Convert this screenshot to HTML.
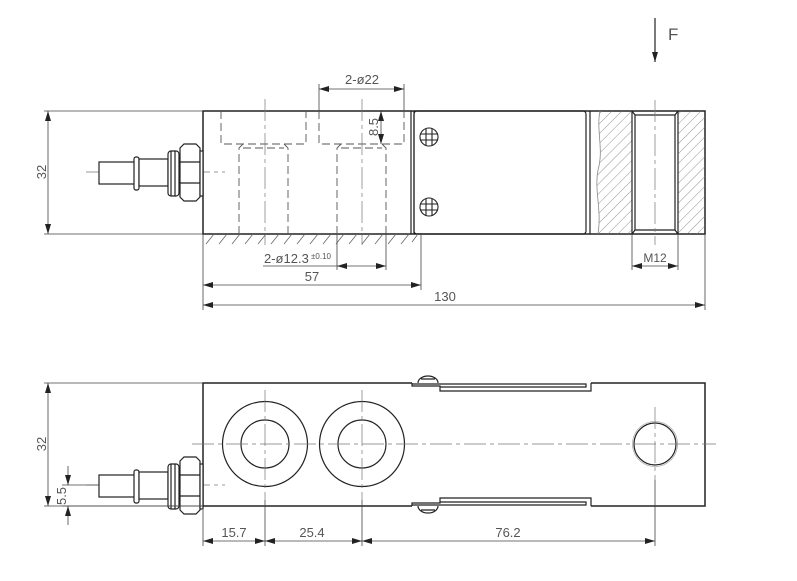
<!DOCTYPE html>
<html><head><meta charset="utf-8"><style>
html,body{margin:0;padding:0;background:#fff}
svg{display:block}
text{font-family:"Liberation Sans",sans-serif;fill:#555;font-size:13px}
</style></head><body>
<svg width="797" height="581" viewBox="0 0 797 581" xmlns="http://www.w3.org/2000/svg">
<defs>
<marker id="a" viewBox="0 0 10 6" refX="10" refY="3" markerWidth="10" markerHeight="6" orient="auto-start-reverse" markerUnits="userSpaceOnUse"><path d="M0,0L10,3L0,6z" fill="#222"/></marker>
<pattern id="h" width="7" height="7" patternUnits="userSpaceOnUse" patternTransform="rotate(45)"><line x1="0" y1="0" x2="0" y2="7" stroke="#777" stroke-width="0.8"/></pattern>
<g id="conn" stroke="#222" fill="#fff" stroke-width="1.2">
<rect x="99" y="-10" width="36" height="22"/>
<rect x="134" y="-15" width="5" height="33" rx="2"/>
<rect x="139" y="-13" width="29" height="27"/>
<rect x="168" y="-21" width="11" height="45" rx="3"/>
<line x1="171" y1="-21" x2="171" y2="24"/><line x1="175" y1="-21" x2="175" y2="24"/>
<path d="M180,-24 L184,-28 L196,-28 L200,-24 L200,25 L196,29 L184,29 L180,25 Z"/>
<path d="M180,-10 L200,-10 M180,11 L200,11" fill="none"/>
<rect x="200" y="-21" width="3" height="45"/>
</g>
</defs>
<g fill="none" stroke="#222" stroke-width="1.2">
<rect x="203" y="111" width="502" height="123" stroke-width="1.5"/>
<line x1="411" y1="111" x2="411" y2="234"/><line x1="414" y1="111" x2="414" y2="234"/>
<rect x="414" y="111" width="172" height="123" rx="3"/>
<line x1="590" y1="111" x2="590" y2="234"/>
<path d="M600,111 C596,130 604,150 598,170 C594,190 602,210 598,234 L632,234 L632,111 Z" fill="url(#h)" stroke="none"/>
<path d="M600,111 C596,130 604,150 598,170 C594,190 602,210 598,234" stroke="#888" stroke-width="0.8"/>
<rect x="678" y="111" width="27" height="123" fill="url(#h)" stroke="none"/>
<line x1="632" y1="111" x2="632" y2="234"/><line x1="678" y1="111" x2="678" y2="234"/>
<path d="M632,111 L635,115 L675,115 L678,111 M632,234 L635,230 L675,230 L678,234 M635,115 L635,230 M675,115 L675,230"/>
<g stroke-width="1.1"><circle cx="429" cy="137" r="9"/><path d="M426,129v16M432,129v16M421,134h16M421,140h16"/>
<circle cx="429" cy="207" r="9"/><path d="M426,199v16M432,199v16M421,204h16M421,210h16"/></g>
<g stroke="#555" stroke-width="0.9" stroke-dasharray="8,4">
<path d="M221,111 L221,144 L306,144 L306,111"/>
<path d="M239,234 L239,148 L243,144 M288,234 L288,148 L284,144 M243,148 L284,148"/>
<path d="M319,111 L319,144 L404,144 L404,111"/>
<path d="M337,234 L337,148 L341,144 M386,234 L386,148 L382,144 M341,148 L382,148"/>
</g>
<g stroke="#777" stroke-width="0.7" stroke-dasharray="22,4,4,4">
<line x1="265" y1="99" x2="265" y2="245"/><line x1="362" y1="99" x2="362" y2="245"/>
<line x1="655" y1="100" x2="655" y2="245"/>
<line x1="86" y1="172" x2="225" y2="172"/>
</g>
<g stroke="#666" stroke-width="0.8"><path d="M206,244l8,-10M219,244l8,-10M232,244l8,-10M245,244l8,-10M258,244l8,-10M271,244l8,-10M284,244l8,-10M297,244l8,-10M310,244l8,-10M323,244l8,-10M336,244l8,-10M349,244l8,-10M362,244l8,-10M375,244l8,-10M388,244l8,-10M401,244l8,-10M412,242l6,-8"/></g>
<use href="#conn" y="172"/>
<line x1="655" y1="18" x2="655" y2="62" marker-end="url(#a)"/>
<g stroke="#444" stroke-width="0.8">
<path d="M44,111H203M44,234H203"/>
<line x1="48" y1="111" x2="48" y2="234" marker-start="url(#a)" marker-end="url(#a)"/>
<path d="M319,84V111M404,84V111"/>
<line x1="319" y1="89" x2="404" y2="89" marker-start="url(#a)" marker-end="url(#a)"/>
<line x1="381" y1="111" x2="381" y2="144" marker-start="url(#a)" marker-end="url(#a)"/>
<path d="M337,234V270M386,234V270"/>
<line x1="337" y1="266" x2="386" y2="266" marker-start="url(#a)" marker-end="url(#a)"/>
<path d="M263,266H337"/>
<path d="M421,234V290M203,234V310M705,234V310M632,234V270M678,234V270"/>
<line x1="203" y1="285" x2="421" y2="285" marker-start="url(#a)" marker-end="url(#a)"/>
<line x1="203" y1="305" x2="705" y2="305" marker-start="url(#a)" marker-end="url(#a)"/>
<line x1="632" y1="266" x2="678" y2="266" marker-start="url(#a)" marker-end="url(#a)"/>
</g>
<path d="M412,383 H203 V506 H412 M591,383 H705 V506 H591" stroke-width="1.5"/>
<path d="M412,383V386H440V391H591V383 M412,386V384H586V387H440"/>
<path d="M412,506V503H440V498H591V506 M412,503V505H586V502H440"/>
<path d="M418,383a10,7 0 0 1 20,0 M421,379h14" />
<path d="M418,506a10,7 0 0 0 20,0 M421,510h14" />
<circle cx="265" cy="444" r="42.5"/><circle cx="265" cy="444" r="24"/>
<circle cx="362" cy="444" r="42.5"/><circle cx="362" cy="444" r="24"/>
<circle cx="655" cy="444" r="21"/><circle cx="655" cy="444" r="22.5" stroke="#999" stroke-width="0.6"/>
<g stroke="#777" stroke-width="0.7" stroke-dasharray="22,4,4,4">
<line x1="192" y1="444" x2="716" y2="444"/>
<line x1="265" y1="390" x2="265" y2="500"/><line x1="362" y1="390" x2="362" y2="500"/>
<line x1="655" y1="407" x2="655" y2="480"/>
<line x1="86" y1="485" x2="225" y2="485"/>
</g>
<use href="#conn" y="485"/>
<g stroke="#444" stroke-width="0.8">
<path d="M44,383H203M44,506H203"/>
<line x1="48" y1="383" x2="48" y2="506" marker-start="url(#a)" marker-end="url(#a)"/>
<path d="M62,485H99M62,506H203"/>
<line x1="68" y1="466" x2="68" y2="485" marker-end="url(#a)"/>
<line x1="68" y1="525" x2="68" y2="506" marker-end="url(#a)"/>
<path d="M203,510V546M265,500V546M362,500V546M655,480V546"/>
<line x1="203" y1="541" x2="265" y2="541" marker-start="url(#a)" marker-end="url(#a)"/>
<line x1="265" y1="541" x2="362" y2="541" marker-start="url(#a)" marker-end="url(#a)"/>
<line x1="362" y1="541" x2="655" y2="541" marker-start="url(#a)" marker-end="url(#a)"/>
</g>
</g>
<text x="668" y="40" style="font-size:17px">F</text>
<text x="362" y="84" text-anchor="middle">2-ø22</text>
<text transform="translate(378,127) rotate(-90)" text-anchor="middle">8.5</text>
<text transform="translate(46,172) rotate(-90)" text-anchor="middle">32</text>
<text x="264" y="263">2-ø12.3</text><text x="311" y="259" style="font-size:8px">±0.10</text>
<text x="312" y="281" text-anchor="middle">57</text>
<text x="445" y="301" text-anchor="middle">130</text>
<text x="655" y="262" text-anchor="middle" style="font-size:12px">M12</text>
<text transform="translate(46,444) rotate(-90)" text-anchor="middle">32</text>
<text transform="translate(66,496) rotate(-90)" text-anchor="middle">5.5</text>
<text x="234" y="537" text-anchor="middle">15.7</text>
<text x="312" y="537" text-anchor="middle">25.4</text>
<text x="508" y="537" text-anchor="middle">76.2</text>
</svg>
</body></html>
